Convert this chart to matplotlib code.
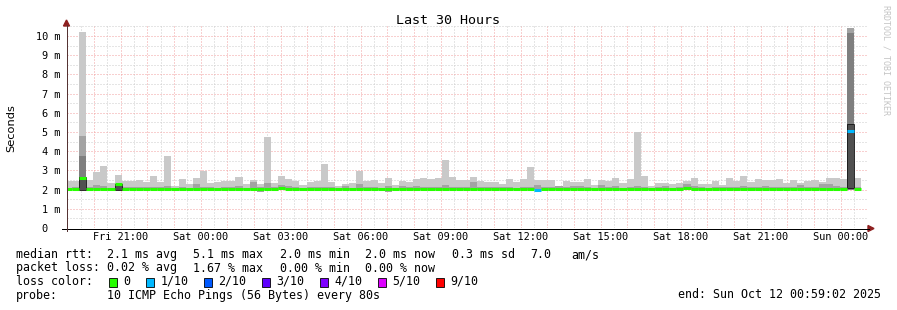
import datetime as dt
import numpy as np
import matplotlib
matplotlib.use('Agg')
import matplotlib.pyplot as plt
import matplotlib.dates as mdates
from matplotlib.lines import Line2D
from matplotlib.patches import Polygon, Rectangle
from matplotlib.ticker import MultipleLocator, FuncFormatter

plt.rcParams['font.family'] = ['DejaVu Sans Mono']

W, H = 897, 310

# smokeping rrd bins, 16 min each (12 x 80s)
t_first = dt.datetime(2025, 10, 10, 18, 54)
t_start = dt.datetime(2025, 10, 10, 18, 59, 2)
t_end = dt.datetime(2025, 10, 12, 0, 59, 2)

# values in ms
rtt_max = [2.44, 2.44, 10.20, 2.50, 2.93, 3.24, 2.33, 2.76, 2.45, 2.45,
           2.50, 2.38, 2.70, 2.38, 3.75, 2.20, 2.55, 2.27, 2.62, 2.97,
           2.33, 2.38, 2.44, 2.44, 2.67, 2.27, 2.50, 2.27, 4.75, 2.33,
           2.72, 2.55, 2.44, 2.24, 2.41, 2.44, 3.33, 2.38, 2.18, 2.29,
           2.34, 2.98, 2.44, 2.50, 2.34, 2.62, 2.24, 2.44, 2.41, 2.55,
           2.62, 2.55, 2.62, 3.54, 2.67, 2.50, 2.50, 2.67, 2.44, 2.41,
           2.41, 2.29, 2.55, 2.41, 2.55, 3.19, 2.50, 2.50, 2.50, 2.20,
           2.44, 2.41, 2.41, 2.55, 2.24, 2.50, 2.45, 2.62, 2.33, 2.55,
           5.01, 2.72, 2.18, 2.33, 2.35, 2.30, 2.33, 2.44, 2.62, 2.27,
           2.27, 2.44, 2.24, 2.62, 2.44, 2.70, 2.41, 2.55, 2.50, 2.50,
           2.55, 2.33, 2.50, 2.33, 2.44, 2.50, 2.41, 2.62, 2.62, 2.55,
           10.42, 2.62]
rtt_band = [2.10, 2.12, 4.79, 2.15, 2.24, 2.20, 2.10, 2.30, 2.15, 2.15,
            2.15, 2.12, 2.15, 2.12, 2.20, 2.10, 2.15, 2.10, 2.27, 2.15,
            2.12, 2.10, 2.15, 2.12, 2.18, 2.10, 2.40, 2.12, 2.33, 2.12,
            2.24, 2.18, 2.15, 2.10, 2.12, 2.12, 2.15, 2.15, 2.10, 2.18,
            2.10, 2.29, 2.12, 2.12, 2.10, 2.18, 2.10, 2.20, 2.12, 2.20,
            2.12, 2.15, 2.12, 2.24, 2.12, 2.12, 2.15, 2.37, 2.15, 2.12,
            2.15, 2.12, 2.15, 2.10, 2.12, 2.12, 2.24, 2.12, 2.12, 2.20,
            2.12, 2.18, 2.18, 2.12, 2.10, 2.24, 2.15, 2.18, 2.10, 2.15,
            2.20, 2.12, 2.10, 2.12, 2.18, 2.10, 2.15, 2.27, 2.18, 2.12,
            2.10, 2.15, 2.15, 2.12, 2.15, 2.18, 2.12, 2.15, 2.18, 2.12,
            2.15, 2.12, 2.15, 2.24, 2.12, 2.15, 2.27, 2.30, 2.18, 2.12,
            10.42, 2.15]
rtt_median = [2.01, 2.01, 2.62, 2.01, 2.01, 2.01, 2.01, 2.28, 2.01, 2.01,
              2.01, 2.01, 2.02, 2.01, 2.01, 2.01, 2.02, 2.01, 2.01, 2.01,
              2.01, 2.01, 2.01, 2.01, 2.01, 2.01, 2.01, 2.01, 2.01, 2.01,
              2.06, 2.01, 2.01, 2.01, 2.01, 2.01, 2.01, 2.01, 2.01, 2.01,
              2.01, 2.01, 2.01, 2.01, 2.01, 2.01, 2.01, 2.01, 2.01, 2.01,
              2.01, 2.05, 2.01, 2.01, 2.01, 2.05, 2.01, 2.01, 2.01, 2.01,
              2.05, 2.01, 2.01, 2.01, 2.04, 2.01, 2.00, 2.01, 2.01, 2.05,
              2.05, 2.01, 2.01, 2.01, 2.01, 2.01, 2.01, 2.01, 2.01, 2.01,
              2.01, 2.05, 2.01, 2.01, 2.01, 2.01, 2.01, 2.06, 2.01, 2.01,
              2.01, 2.05, 2.01, 2.01, 2.01, 2.01, 2.01, 2.01, 2.01, 2.01,
              2.01, 2.01, 2.05, 2.01, 2.01, 2.01, 2.01, 2.01, 2.01, 2.01,
              5.07, 2.01]
rtt_min = [1.97, 1.97, 1.98, 1.97, 1.97, 1.97, 1.97, 1.99, 1.97, 1.97,
           1.97, 1.97, 1.97, 1.97, 1.97, 1.97, 1.97, 1.97, 1.97, 1.97,
           1.97, 1.97, 1.97, 1.97, 1.97, 1.97, 1.97, 1.89, 1.97, 1.97,
           1.97, 1.97, 1.97, 1.97, 1.97, 1.97, 1.97, 1.97, 1.97, 1.97,
           1.97, 1.97, 1.97, 1.97, 1.97, 1.89, 1.97, 1.97, 1.97, 1.97,
           1.97, 1.97, 1.97, 1.97, 1.97, 1.97, 1.97, 1.97, 1.97, 1.97,
           1.97, 1.97, 1.97, 1.97, 1.97, 1.97, 1.97, 1.97, 1.97, 1.97,
           1.97, 1.97, 1.97, 1.97, 1.97, 1.97, 1.97, 1.97, 1.97, 1.97,
           1.97, 1.97, 1.97, 1.97, 1.97, 1.97, 1.97, 1.97, 1.97, 1.97,
           1.97, 1.97, 1.97, 1.97, 1.97, 1.97, 1.97, 1.97, 1.97, 1.97,
           1.97, 1.97, 1.97, 1.97, 1.97, 1.97, 1.97, 1.97, 1.97, 1.97,
           1.99, 1.97]
# loss level index per bin (0 = no loss, 1 = 1/10)
loss_level = [0] * 66 + [1] + [0] * 43 + [1, 0]

# darker smoke layers on the noisy bins
dark_bins = [2, 110]
dark_top = [3.75, 10.17]
core_bins = [2, 7, 110]
core_lo = [1.98, 2.00, 2.07]
core_hi = [2.67, 2.28, 5.42]

loss_labels = ['0', '1/10', '2/10', '3/10', '4/10', '5/10', '9/10']
loss_colors = ['#26ff00', '#00b8ff', '#0059ff', '#5e00ff', '#7e00ff', '#dd00ff', '#ff0000']

rtt_stats = ['2.1 ms avg', '5.1 ms max', '2.0 ms min', '2.0 ms now', '0.3 ms sd', '7.0', 'am/s']
rtt_stats_x = [107.3, 193.3, 280, 365, 451.7, 530, 571.7]
loss_stats = ['0.02 % avg', '1.67 % max', '0.00 % min', '0.00 % now']


def fx(px):
    return px / W


def fy(py):
    return 1 - py / H


fig = plt.figure(figsize=(W / 100, H / 100), dpi=100, facecolor='white')
ax = fig.add_axes([fx(67), fy(228), 800 / W, 202 / H])

bins = [t_first + dt.timedelta(minutes=16 * i) for i in range(len(rtt_max))]
x = mdates.date2num(bins)
step = 16 / 1440.0
lo = np.array(rtt_min)
hi = np.array(rtt_max)
band = np.array(rtt_band)

ax.bar(x, hi - lo, bottom=lo, width=step, align='edge', color='#c9c9c9',
       linewidth=0, antialiased=False, zorder=2)
ax.bar(x, band - lo, bottom=lo, width=step, align='edge', color='#a3a3a3',
       linewidth=0, antialiased=False, zorder=3)
ax.bar(x[dark_bins], np.array(dark_top) - lo[dark_bins], bottom=lo[dark_bins],
       width=step, align='edge', color='#7f7f7f', linewidth=0, antialiased=False, zorder=4)
ax.bar(x[core_bins], np.array(core_hi) - np.array(core_lo), bottom=core_lo,
       width=step, align='edge', color='#505050', edgecolor='black',
       linewidth=0.5, zorder=5)
med = ax.hlines(rtt_median, x, x + step, colors=[loss_colors[l] for l in loss_level],
                linewidth=2.2, zorder=6)
med.set_capstyle('butt')

ax.set_xlim(mdates.date2num(t_start), mdates.date2num(t_end))
ax.set_ylim(0, 10.52)

ax.xaxis.set_major_locator(mdates.HourLocator())
ax.xaxis.set_minor_locator(mdates.MinuteLocator(byminute=[30]))
ax.xaxis.set_major_formatter(FuncFormatter(
    lambda v, _: mdates.num2date(v).strftime('%a %H:%M') if mdates.num2date(v).hour % 3 == 0 else ''))
ax.yaxis.set_major_locator(MultipleLocator(1))
ax.yaxis.set_minor_locator(MultipleLocator(0.5))
ax.yaxis.set_major_formatter(FuncFormatter(lambda v, _: '0  ' if v == 0 else '%d m' % v))

ax.grid(which='major', color='#f2a0a0', linestyle=(0, (1, 2)), linewidth=0.72)
ax.grid(which='minor', color='#cccccc', linestyle=(0, (1, 2)), linewidth=0.72)
ax.set_axisbelow(True)
ax.tick_params(which='both', length=0)
ax.tick_params(axis='x', pad=3, labelsize=7.4)
ax.tick_params(axis='y', pad=5, labelsize=7.4)
for s in ax.spines.values():
    s.set_visible(False)

# axis lines and arrows
fig.add_artist(Line2D([fx(62), fx(869)], [fy(228.5), fy(228.5)], color='black', lw=0.72))
fig.add_artist(Line2D([fx(66.5), fx(66.5)], [fy(231), fy(25)], color='#553333', lw=0.72))
fig.add_artist(Polygon([[fx(868), fy(225.5)], [fx(874), fy(228.5)], [fx(868), fy(231.5)]],
                       closed=True, color='#8e2020', transform=fig.transFigure))
fig.add_artist(Polygon([[fx(63.5), fy(26)], [fx(66.5), fy(20)], [fx(69.5), fy(26)]],
                       closed=True, color='#8e2020', transform=fig.transFigure))

fig.text(fx(448), fy(20), 'Last 30 Hours', ha='center', va='center', fontsize=9.6)
fig.text(fx(11), fy(128), 'Seconds', rotation=90, ha='center', va='center',
         fontsize=8.2, family='DejaVu Sans')
fig.text(fx(886), fy(60), 'RRDTOOL / TOBI OETIKER', rotation=270, ha='center', va='center',
         fontsize=6, color='#c4c4c4')

# legend block
fs = 8.4
fig.text(fx(16), fy(258), 'median rtt:', fontsize=fs, va='baseline')
for s, px in zip(rtt_stats, rtt_stats_x):
    fig.text(fx(px), fy(258), s, fontsize=fs, va='baseline')
fig.text(fx(16), fy(271.5), 'packet loss:', fontsize=fs, va='baseline')
for s, px in zip(loss_stats, rtt_stats_x):
    fig.text(fx(px), fy(271.5), s, fontsize=fs, va='baseline')
fig.text(fx(16), fy(285), 'loss color:', fontsize=fs, va='baseline')
bx = 108.7
for lab, col in zip(loss_labels, loss_colors):
    fig.add_artist(Rectangle((fx(bx), fy(286.7)), 8 / W, 8.4 / H, facecolor=col,
                             edgecolor='black', lw=0.6, transform=fig.transFigure))
    fig.text(fx(bx + 14.6), fy(285), lab, fontsize=fs, va='baseline')
    bx += 30 + 7 * len(lab)
fig.text(fx(16), fy(298.5), 'probe:', fontsize=fs, va='baseline')
fig.text(fx(107.3), fy(298.5), '10 ICMP Echo Pings (56 Bytes) every 80s', fontsize=fs, va='baseline')
fig.text(fx(881), fy(298.5), 'end: Sun Oct 12 00:59:02 2025', fontsize=fs, va='baseline', ha='right')

fig.savefig('out.png', dpi=100, facecolor='white')
